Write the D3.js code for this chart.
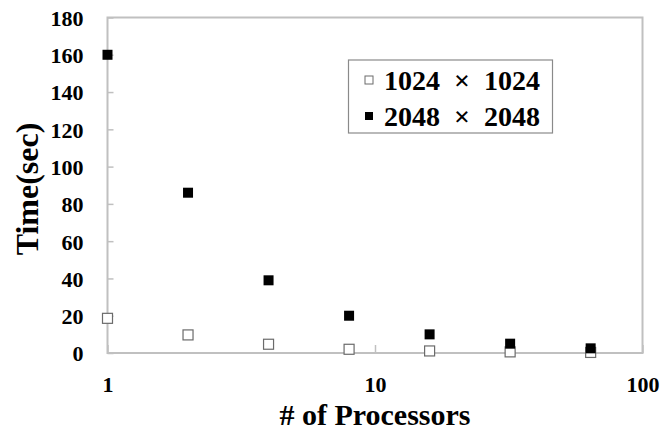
<!DOCTYPE html>
<html><head><meta charset="utf-8">
<script src="https://cdn.jsdelivr.net/npm/d3@7"></script>
<style>
body{margin:0;background:#fff;}
text{font-family:"Liberation Serif","Times New Roman",serif;font-weight:bold;fill:#000;}
</style></head>
<body>
<svg id="c" width="660" height="431"></svg>
<script>
const processors = [1, 2, 4, 8, 16, 32, 64];
const time1024 = [18.6, 9.7, 4.7, 2.0, 1.1, 0.6, 0.3];
const time2048 = [160, 86, 39, 20, 10, 5, 2.5];
const seriesNames = ["1024 \u00A0\u00D7\u00A0 1024", "2048 \u00A0\u00D7\u00A0 2048"];
const yTicks = [0, 20, 40, 60, 80, 100, 120, 140, 160, 180];
const xTicks = [1, 10, 100];

const svg = d3.select("#c");
const L = 107.5, R = 642.5, T = 17.5, B = 353;
const x = d3.scaleLog().domain([1, 100]).range([L, R]);
const y = d3.scaleLinear().domain([0, 180]).range([B, T]);
const axisColor = "#c0c0c0";

// frame
svg.append("rect").attr("x", L).attr("y", T).attr("width", R - L).attr("height", B - T)
  .attr("fill", "none").attr("stroke", axisColor).attr("stroke-width", 2);

// y axis
const ya = svg.append("g").attr("transform", `translate(${L},0)`)
  .call(d3.axisLeft(y).tickValues(yTicks).tickSize(-6).tickPadding(24));
ya.select(".domain").remove();
ya.selectAll("line").attr("stroke", axisColor).attr("stroke-width", 1.5);
ya.selectAll("text").style("font-size", "22px").attr("dy", "0.36em");

// x axis
const xa = svg.append("g").attr("transform", `translate(0,${B})`)
  .call(d3.axisBottom(x).tickValues(xTicks).tickFormat(d3.format("d")).tickSize(-8).tickPadding(31));
xa.select(".domain").remove();
xa.selectAll("line").attr("stroke", axisColor).attr("stroke-width", 1.5);
xa.selectAll("text").style("font-size", "22px").attr("dy", "0.36em");

// titles
svg.append("text").attr("x", 375).attr("y", 424.5).attr("text-anchor", "middle")
  .style("font-size", "30px").text("# of Processors");
svg.append("text").attr("transform", "translate(38,189) rotate(-90)").attr("text-anchor", "middle")
  .style("font-size", "32px").text("Time(sec)");

const s = 10;
// series 1024 (open)
svg.append("g").selectAll("rect").data(processors.map((p, i) => [p, time1024[i]])).join("rect")
  .attr("x", d => x(d[0]) - s / 2).attr("y", d => y(d[1]) - s / 2)
  .attr("width", s).attr("height", s).attr("fill", "#fff").attr("stroke", "#6b6b6b").attr("stroke-width", 1.2);
// series 2048 (filled)
svg.append("g").selectAll("rect").data(processors.map((p, i) => [p, time2048[i]])).join("rect")
  .attr("x", d => x(d[0]) - s / 2).attr("y", d => y(d[1]) - s / 2)
  .attr("width", s).attr("height", s).attr("fill", "#000");

// legend
const lg = svg.append("g");
lg.append("rect").attr("x", 348.5).attr("y", 60).attr("width", 204).attr("height", 73)
  .attr("fill", "#fff").attr("stroke", "#8a8a8a").attr("stroke-width", 1.2);
const rows = [{y: 80, fill: "#fff", stroke: "#6b6b6b"}, {y: 116, fill: "#000", stroke: "none"}];
rows.forEach((r, i) => {
  lg.append("rect").attr("x", 365).attr("y", r.y - 4).attr("width", 8).attr("height", 8)
    .attr("fill", r.fill).attr("stroke", r.stroke).attr("stroke-width", 1);
  lg.append("text").attr("x", 384).attr("y", r.y).attr("dy", "0.36em")
    .style("font-size", "28px").text(seriesNames[i]);
});
</script>
</body></html>
